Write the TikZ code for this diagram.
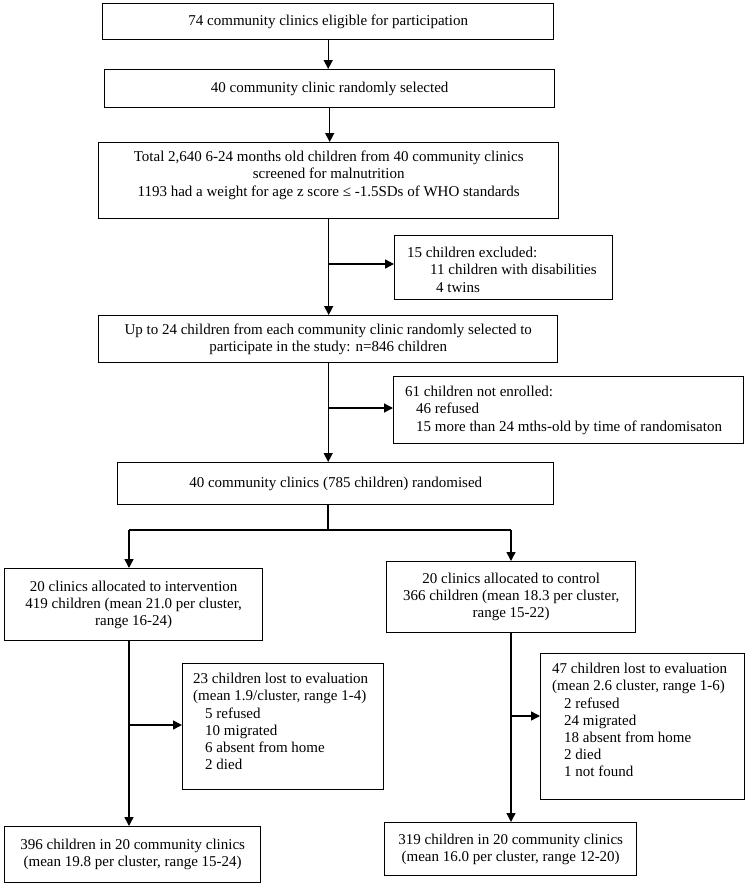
\documentclass[tikz,border=0pt]{standalone}
\usepackage{fontspec}
\setmainfont{Liberation Serif}
\usetikzlibrary{arrows.meta}
\newcommand\boxfont{\fontsize{15}{17.2}\selectfont}
\begin{document}
\begin{tikzpicture}[x=1pt,y=-1pt,
  box/.style={draw, line width=1.4pt, inner sep=0pt, anchor=north west, align=center, font=\boxfont},
  ltxt/.style={anchor=north west, inner sep=0pt, align=left, font=\boxfont},
  arr/.style={line width=1.4pt, -{Triangle[length=9pt,width=9pt]}},
  conn/.style={line width=1.4pt}]
\useasboundingbox[fill=white] (0,0) rectangle (748,886);

\node[box, minimum width=451pt, minimum height=36pt] (b1) at (102,3) {74 community clinics eligible for participation};
\node[box, minimum width=450pt, minimum height=38pt] (b2) at (104,69) {40 community clinic randomly selected};
\node[box, minimum width=460pt, minimum height=76pt, text depth=14pt] (b3) at (98,142) {Total 2,640 6-24 months old children from 40 community clinics\\screened for malnutrition\\1193 had a weight for age z score ≤ -1.5SDs of WHO standards};
\node[box, minimum width=218pt, minimum height=64pt] (excl) at (394,235) {};
\node[ltxt] (excltxt) at (407,247) {15 children excluded:\\\hspace*{23pt}11 children with disabilities\\\hspace*{29pt}4 twins};
\node[box, minimum width=459pt, minimum height=47pt] (b4) at (98,315) {Up to 24 children from each community clinic randomly selected to\\participate in the study: n=846 children};
\node[box, minimum width=350pt, minimum height=67pt] (noten) at (393,376) {};
\node[ltxt] (noten txt) at (405,386) {61 children not enrolled:\\\hspace*{11pt}46 refused\\\hspace*{11pt}15 more than 24 mths-old by time of randomisaton};
\node[box, minimum width=436pt, minimum height=42pt] (b5) at (117,462) {40 community clinics (785 children) randomised};

\node[box, minimum width=258pt, minimum height=72pt] (left) at (4,568) {20 clinics allocated to intervention\\419 children (mean 21.0 per cluster,\\range 16-24)};
\node[box, minimum width=249pt, minimum height=71pt] (right) at (386,561) {20 clinics allocated to control\\366 children (mean 18.3 per cluster,\\range 15-22)};
\node[box, minimum width=201pt, minimum height=126pt] (lostL) at (182,663) {};
\node[ltxt] (lostLtxt) at (193,673) {23 children lost to evaluation\\(mean 1.9/cluster, range 1-4)\\\hspace*{12pt}5 refused\\\hspace*{12pt}10 migrated\\\hspace*{12pt}6 absent from home\\\hspace*{12pt}2 died};
\node[box, minimum width=204pt, minimum height=146pt] (lostR) at (540,653) {};
\node[ltxt] (lostRtxt) at (552,663) {47 children lost to evaluation\\(mean 2.6 cluster, range 1-6)\\\hspace*{12pt}2 refused\\\hspace*{12pt}24 migrated\\\hspace*{12pt}18 absent from home\\\hspace*{12pt}2 died\\\hspace*{12pt}1 not found};
\node[box, minimum width=256pt, minimum height=56pt] (botL) at (4,826) {396 children in 20 community clinics\\(mean 19.8 per cluster, range 15-24)};
\node[box, minimum width=252pt, minimum height=53pt] (botR) at (384,822) {319 children in 20 community clinics\\(mean 16.0 per cluster, range 12-20)};

% main spine
\draw[arr] (b1.south) -- (b1.south |- b2.north);
\draw[arr] (b2.south) -- (b2.south |- b3.north);
\draw[arr] (b3.south) -- (b3.south |- b4.north);
\coordinate (e1) at (328,264);
\draw[arr] (e1) -- (e1 -| excl.west);
\draw[arr] (b4.south) -- (b4.south |- b5.north);
\coordinate (e2) at (328,408);
\draw[arr] (e2) -- (e2 -| noten.west);

% split
\coordinate (split) at (328,530);
\coordinate (sl) at (129,530);
\coordinate (sr) at (511,530);
\draw[conn] (split |- b5.south) -- (split);
\draw[conn] (sl) -- (sr);
\draw[arr] (sl) -- (sl |- left.north);
\draw[arr] (sr) -- (sr |- right.north);

% left arm
\draw[arr] (sl |- left.south) -- (sl |- botL.north);
\coordinate (bl) at (129,725);
\draw[arr] (bl) -- (bl -| lostL.west);
% right arm
\draw[arr] (sr |- right.south) -- (sr |- botR.north);
\coordinate (br) at (511,716);
\draw[arr] (br) -- (br -| lostR.west);
\end{tikzpicture}
\end{document}
